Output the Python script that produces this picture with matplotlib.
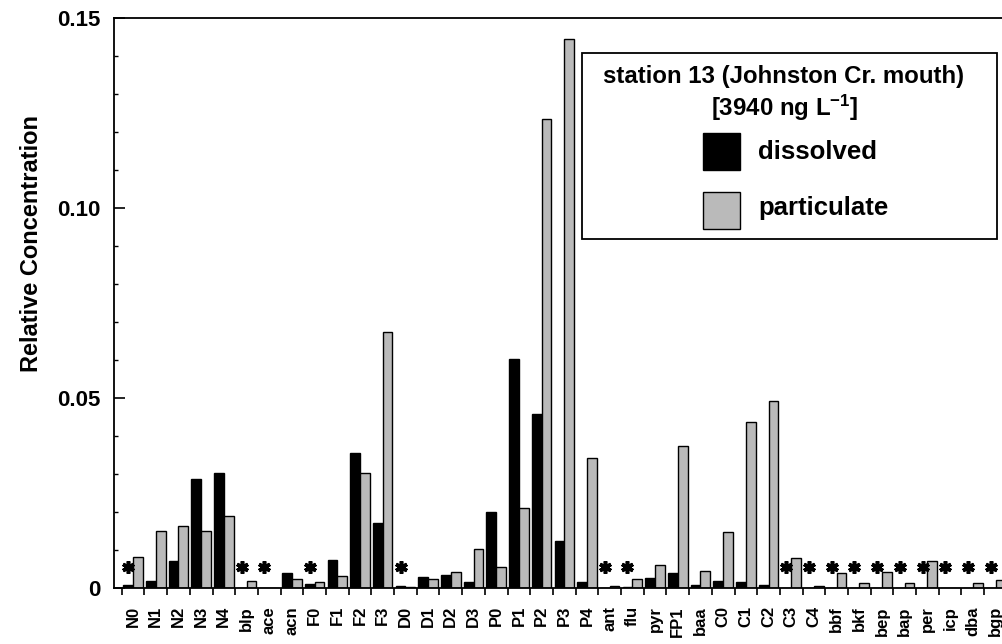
import matplotlib
matplotlib.use('Agg')
import matplotlib.pyplot as plt
from matplotlib.patches import Rectangle
from matplotlib.ticker import FixedLocator, FixedFormatter, MultipleLocator
import numpy as np

plt.rcParams['font.family'] = ['Liberation Sans', 'DejaVu Sans']
plt.rcParams['font.weight'] = 'bold'
plt.rcParams['mathtext.fontset'] = 'custom'
plt.rcParams['mathtext.rm'] = 'Liberation Sans:bold'
plt.rcParams['mathtext.bf'] = 'Liberation Sans:bold'
plt.rcParams['mathtext.default'] = 'bf'

compounds = ['N0', 'N1', 'N2', 'N3', 'N4', 'blp', 'ace', 'acn', 'F0', 'F1',
             'F2', 'F3', 'D0', 'D1', 'D2', 'D3', 'P0', 'P1', 'P2', 'P3',
             'P4', 'ant', 'flu', 'pyr', 'FP1', 'baa', 'C0', 'C1', 'C2', 'C3',
             'C4', 'bbf', 'bkf', 'bep', 'bap', 'per', 'icp', 'dba', 'bgp']

dissolved = [0.0008, 0.0018, 0.0071, 0.0287, 0.0303, 0.0, 0.0, 0.0039, 0.0010, 0.0075,
             0.0355, 0.0170, 0.0005, 0.0029, 0.0033, 0.0017, 0.0200, 0.0603, 0.0458, 0.0125,
             0.0017, 0.0, 0.0003, 0.0027, 0.0039, 0.0007, 0.0018, 0.0015, 0.0008, 0.0,
             0.0, 0.0, 0.0, 0.0, 0.0, 0.0, 0.0, 0.0, 0.0]

particulate = [0.0082, 0.0151, 0.0164, 0.0151, 0.0190, 0.0018, 0.0, 0.0024, 0.0015, 0.0032,
               0.0302, 0.0674, 0.0003, 0.0025, 0.0041, 0.0103, 0.0054, 0.0210, 0.1234, 0.1445,
               0.0342, 0.0004, 0.0023, 0.0060, 0.0374, 0.0045, 0.0148, 0.0437, 0.0492, 0.0078,
               0.0004, 0.0039, 0.0012, 0.0041, 0.0013, 0.0072, 0.0, 0.0013, 0.0021]

# compounds whose dissolved phase was below detection
not_detected = ['N0', 'blp', 'ace', 'F0', 'D0', 'ant', 'flu', 'C3', 'C4', 'bbf',
                'bkf', 'bep', 'bap', 'per', 'icp', 'dba', 'bgp']
star_level = 0.0055

W, H = 1003, 644
fig = plt.figure(figsize=(W / 100, H / 100), dpi=100)
ax = fig.add_axes([114 / W, 1 - 588 / H, 1 - 114 / W, (588 - 18) / H])

x = np.arange(len(compounds))
bw = 0.43
ax.bar(x - bw / 2, dissolved, bw, color='black', edgecolor='black', linewidth=1)
ax.bar(x + bw / 2, particulate, bw, color='#bababa', edgecolor='black', linewidth=1)

star_x = [compounds.index(c) - bw / 2 for c in not_detected]
ax.plot(star_x, [star_level] * len(star_x), ls='none', marker=(6, 2, 0),
        ms=9, mew=2.6, color='black')

ax.set_xlim(-0.84, 38.33)
ax.set_ylim(0, 0.15)

ax.spines['right'].set_visible(False)
for s in ['left', 'bottom', 'top']:
    ax.spines[s].set_linewidth(1.3)

ax.yaxis.set_major_locator(FixedLocator([0, 0.05, 0.10, 0.15]))
ax.yaxis.set_major_formatter(FixedFormatter(['0', '0.05', '0.10', '0.15']))
ax.yaxis.set_minor_locator(MultipleLocator(0.01))
ax.tick_params(axis='y', which='major', direction='in', length=8, width=1.2,
               labelsize=16, pad=10)
ax.tick_params(axis='y', which='minor', direction='in', length=3, width=1)

ax.set_xticks(x)
ax.set_xticklabels(compounds, rotation=90, fontsize=12, fontweight='bold')
ax.set_xticks(list(x[:-1] + 0.5) + [-0.5], minor=True)
ax.tick_params(axis='x', which='major', length=0, pad=13)
ax.tick_params(axis='x', which='minor', direction='out', length=5, width=1.2)

ax.set_ylabel('Relative Concentration', fontsize=17, fontweight='bold')
ax.yaxis.set_label_coords(-0.080, 0.605)

# station legend box
def px(xp, yp):
    return xp / W, 1 - yp / H

bx, by = px(582, 239)
fig.patches.append(Rectangle((bx, by), 415 / W, 186 / H, transform=fig.transFigure,
                             facecolor='white', edgecolor='black', linewidth=1.3,
                             zorder=5))
fig.text(*px(784, 77), 'station 13 (Johnston Cr. mouth)', ha='center', va='center',
         fontsize=17.3, fontweight='bold', zorder=6)
fig.text(*px(785, 108), r'[3940 ng L$^{-1}$]', ha='center', va='center',
         fontsize=17.3, fontweight='bold', zorder=6)
for (top, face, label, ty) in [(133, 'black', 'dissolved', 152),
                              (192, '#bababa', 'particulate', 208)]:
    hx, hy = px(703, top + 37)
    fig.patches.append(Rectangle((hx, hy), 37 / W, 37 / H, transform=fig.transFigure,
                                 facecolor=face, edgecolor='black', linewidth=1,
                                 zorder=6))
    fig.text(*px(758, ty), label, ha='left', va='center', fontsize=18.5,
             fontweight='bold', zorder=6)

fig.savefig('out.png', dpi=100)
